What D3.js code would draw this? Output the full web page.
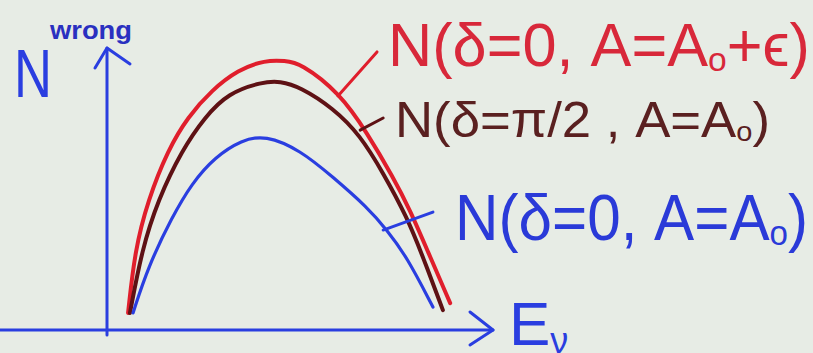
<!DOCTYPE html>
<html>
<head>
<meta charset="utf-8">
<script src="https://cdn.jsdelivr.net/npm/d3@7/dist/d3.min.js"></script>
<style>
  html, body { margin: 0; padding: 0; background: #e7ece5; }
  svg { display: block; }
  text { font-family: "Liberation Sans", "DejaVu Sans", sans-serif; }
</style>
</head>
<body>
<svg id="chart" width="813" height="353"></svg>
<script>
// Neutrino energy spectra of "wrong-sign" events for three parameter choices
const redE  = [5.5, 7.3, 10.7, 15.9, 21.1, 27.4, 34.2, 41.3, 46.5, 50.4, 60.8, 67.9, 74.7, 79.1, 83.6, 89.6];
const redN  = [6.1, 28.6, 46.4, 64.3, 76.1, 85.7, 92.9, 96.4, 96.1, 95.4, 84.6, 70.4, 54.6, 42.9, 28.6, 9.6];
const darkE = [6.0, 9.1, 13.3, 19.6, 25.6, 31.6, 40.5, 45.2, 50.4, 59.0, 66.1, 72.1, 78.3, 82.5, 87.7];
const darkN = [6.1, 28.6, 46.4, 64.3, 76.1, 84.6, 88.6, 88.9, 86.8, 79.3, 69.6, 56.1, 40.4, 26.1, 7.1];
const blueE = [6.8, 10.7, 17.0, 22.2, 28.2, 35.2, 41.3, 50.4, 59.0, 67.9, 73.1, 78.3, 85.1];
const blueN = [6.1, 22.5, 40.4, 52.5, 61.8, 67.9, 69.6, 64.3, 54.6, 43.9, 35.7, 26.1, 8.2];

const seriesNames = ["red", "dark", "blue"];
const seriesColors = ["#e01e2c", "#5e1114", "#2a3ee0"];
const labelColors = ["#d8283a", "#5a2020", "#2a3ad8"];

// Leader lines from each label to its curve, in data units [E1, N1, E2, N2]
const leaders = [
  [70.5, 99.3, 60.3, 83.6],
  [66.1, 71.4, 72.1, 75.7],
  [72.1, 35.7, 85.1, 42.1]
];

const svg = d3.select("#chart");
const x = d3.scaleLinear().domain([0, 100]).range([107, 490]);
const y = d3.scaleLinear().domain([0, 100]).range([330, 50]);

const axisColor = "#2a3ee0";

// Axes drawn as sketched arrows
const axes = svg.append("g").attr("stroke", axisColor).attr("stroke-width", 3)
  .attr("fill", "none").attr("stroke-linecap", "round").attr("stroke-linejoin", "round");
axes.append("line").attr("x1", 0).attr("y1", y(0)).attr("x2", x(100) + 3).attr("y2", y(0));
axes.append("path").attr("d", `M${x(100) - 20},${y(0) - 18} L${x(100) + 3},${y(0)} L${x(100) - 20},${y(0) + 15}`);
axes.append("line").attr("x1", x(0)).attr("y1", y(0) + 5).attr("x2", x(0)).attr("y2", y(100) - 2);
axes.append("path").attr("d", `M${x(0) - 12},${y(100) + 18} L${x(0)},${y(100) - 2} L${x(0) + 23},${y(100) + 14}`);

// Spectra curves, smoothed like a freehand stroke
const line = d3.line().x(d => x(d[0])).y(d => y(d[1])).curve(d3.curveBasis);
const series = [
  d3.zip(redE, redN),
  d3.zip(darkE, darkN),
  d3.zip(blueE, blueN)
];
const widths = [4, 4, 3.2];
series.forEach((pts, i) => {
  svg.append("path").datum(pts)
    .attr("class", "curve-" + seriesNames[i])
    .attr("d", line)
    .attr("fill", "none")
    .attr("stroke", seriesColors[i])
    .attr("stroke-width", widths[i])
    .attr("stroke-linecap", "round");
});

// Leader lines
leaders.forEach((l, i) => {
  svg.append("line")
    .attr("x1", x(l[0])).attr("y1", y(l[1]))
    .attr("x2", x(l[2])).attr("y2", y(l[3]))
    .attr("stroke", seriesColors[i]).attr("stroke-width", 3).attr("stroke-linecap", "round");
});

// Curve labels
function label(parts, xPos, yPos, size, len, color) {
  const t = svg.append("text").attr("x", xPos).attr("y", yPos)
    .attr("font-size", size).attr("fill", color)
    .attr("textLength", len).attr("lengthAdjust", "spacingAndGlyphs");
  parts.forEach(p => {
    const s = t.append("tspan").text(p.t);
    if (p.sub) s.attr("font-size", size * 0.55).attr("dy", size * 0.08);
    if (p.up) s.attr("dy", -size * 0.08);
  });
  return t;
}

label([{t: "N(δ=0, A=A"}, {t: "o", sub: true}, {t: "+ϵ)", up: true}], 388, 66, 62, 422, labelColors[0]);
label([{t: "N(δ=π/2 , A=A"}, {t: "o", sub: true}, {t: ")", up: true}], 395, 137, 50, 375, labelColors[1]);
label([{t: "N(δ=0, A=A"}, {t: "o", sub: true}, {t: ")", up: true}], 455, 240, 64, 353, labelColors[2]);

// Axis titles
svg.append("text").attr("x", 14).attr("y", 97).attr("font-size", 68)
  .attr("fill", axisColor).attr("textLength", 38).attr("lengthAdjust", "spacingAndGlyphs").text("N");
svg.append("text").attr("x", 50).attr("y", 39).attr("font-size", 25).attr("font-weight", "bold")
  .attr("fill", "#2a30c0").attr("textLength", 82).attr("lengthAdjust", "spacingAndGlyphs").text("wrong");
const ex = svg.append("text").attr("x", 509).attr("y", 345).attr("font-size", 62).attr("fill", axisColor);
ex.append("tspan").text("E");
ex.append("tspan").attr("font-size", 36).attr("dy", 8).text("ν");
</script>
</body>
</html>
